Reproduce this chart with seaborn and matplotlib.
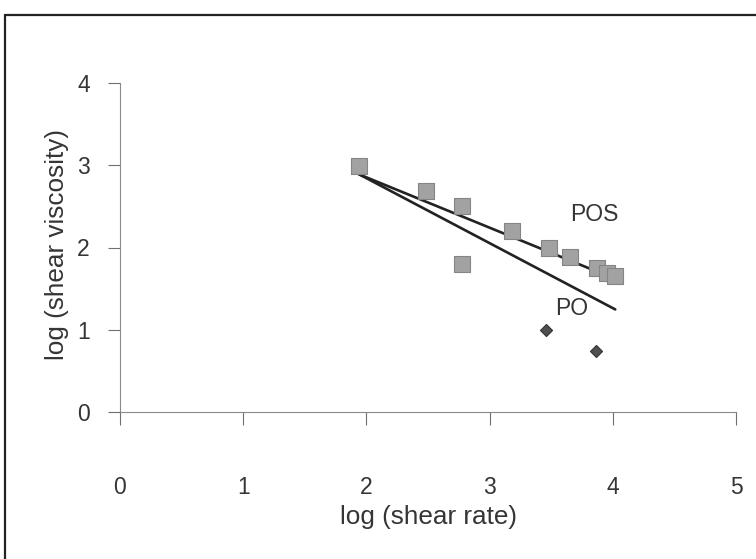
import numpy as np
import matplotlib
matplotlib.use("Agg")
import matplotlib.pyplot as plt
import seaborn as sns
from matplotlib.lines import Line2D

# Measured points: log(shear rate) vs log(shear viscosity)
pos_x = [1.94, 2.48, 2.78, 2.78, 3.18, 3.48, 3.65, 3.87, 3.95, 4.02]
pos_y = [2.99, 2.69, 2.50, 1.80, 2.20, 2.00, 1.88, 1.75, 1.69, 1.65]
po_x = [3.46, 3.86]
po_y = [1.00, 0.74]

# Power-law fits (intercept, slope) and the span they are drawn over
pos_fit = (4.077, -0.612)
po_fit = (4.423, -0.790)
pos_span = [1.94, 4.03]
po_span = [1.94, 4.02]

x_ticks = [0, 1, 2, 3, 4, 5]
y_ticks = [0, 1, 2, 3, 4]

sns.set_theme(style="white")
plt.rcParams["font.family"] = ["Liberation Sans", "DejaVu Sans"]

W, H = 756, 559
fig = plt.figure(figsize=(W / 100, H / 100), dpi=100)
ax = fig.add_axes([120 / W, 1 - 412 / H, 616 / W, 329 / H])

ink = "#222222"
txt = "#353535"
for span, (b0, b1) in ((pos_span, pos_fit), (po_span, po_fit)):
    xs = np.array(span)
    sns.lineplot(x=xs, y=b0 + b1 * xs, color=ink, linewidth=1.9, ax=ax, zorder=2)

sns.scatterplot(x=pos_x, y=pos_y, marker="s", s=117, color="#a2a2a2",
                edgecolor="#858585", linewidth=0.8, ax=ax, zorder=3)
sns.scatterplot(x=po_x, y=po_y, marker="D", s=38, color="#4f4f4f",
                edgecolor="#333333", linewidth=0.8, ax=ax, zorder=3)

ax.text(3.85, 2.40, "POS", fontsize=16.5, color=txt, ha="center", va="center")
ax.text(3.67, 1.26, "PO", fontsize=16.5, color=txt, ha="center", va="center")

ax.set_xlim(0, 5)
ax.set_ylim(0, 4)
ax.set_xticks(x_ticks)
ax.set_yticks(y_ticks)
ax.set_xticklabels([str(t) for t in x_ticks])
ax.set_yticklabels([str(t) for t in y_ticks])

for side in ("top", "right"):
    ax.spines[side].set_visible(False)
for side in ("left", "bottom"):
    ax.spines[side].set_color("#8a8a8a")
    ax.spines[side].set_linewidth(0.8)

ax.tick_params(axis="x", bottom=True, direction="out", length=9.4, width=0.8,
               color="#707070", pad=37, labelsize=16.5, labelcolor=txt)
ax.tick_params(axis="y", left=True, direction="out", length=8.6, width=0.8,
               color="#707070", pad=13, labelsize=16.5, labelcolor=txt)

ax.set_xlabel("log (shear rate)", fontsize=18.8, color=txt)
ax.xaxis.set_label_coords(0.5, -0.319)
ax.xaxis.label.set_va("center")
ax.set_ylabel("log (shear viscosity)", fontsize=18.8, color=txt)
ax.yaxis.set_label_coords(-0.102, 0.508)
ax.yaxis.label.set_va("center")

# Outer frame of the figure panel
fx, fy = 5 / W, 1 - 15 / H
fig.add_artist(Line2D([fx, fx], [0, fy], color=ink, lw=1.6, transform=fig.transFigure))
fig.add_artist(Line2D([fx, 1], [fy, fy], color=ink, lw=1.6, transform=fig.transFigure))

fig.savefig("out.png", dpi=100)
